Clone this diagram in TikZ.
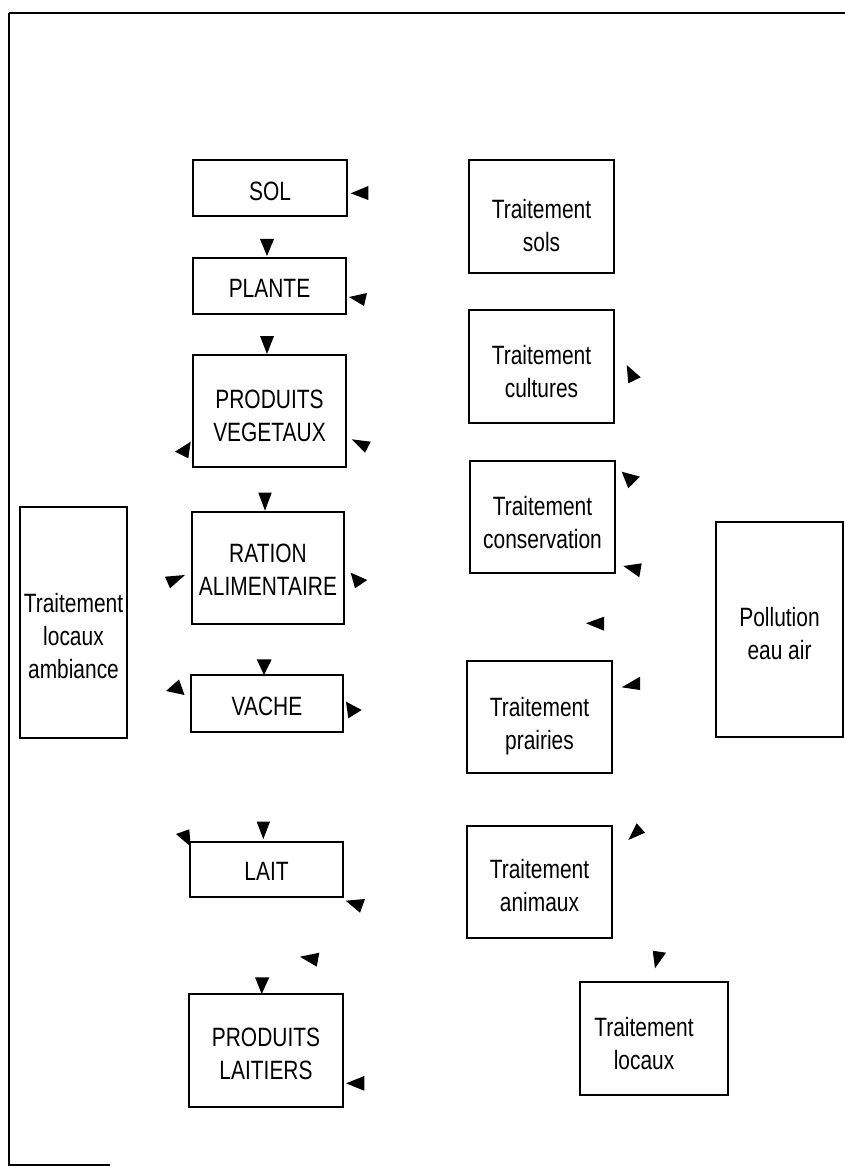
\documentclass[tikz,border=0pt]{standalone}
\usepackage{fontspec}
\setmainfont{Liberation Sans}[FakeStretch=0.79]
\begin{document}
\begin{tikzpicture}[x=1pt,y=-1pt,
  box/.style={draw=black,line width=1.1pt,inner sep=0pt},
  lbl/.style={inner sep=0pt,align=center,font=\fontsize{26.5}{33}\selectfont},
  tip/.style={fill=black},
  frame/.style={draw=black,line width=1.2pt}]
\useasboundingbox (0,0) rectangle (845,1166);
% frame
\draw[frame] (9,13) -- (845,13);
\draw[frame] (9,13) -- (9,1165) -- (110,1165);
% left column
\node[box,minimum width=154pt,minimum height=56pt] (sol) at (270,188) {};
\node[box,minimum width=153pt,minimum height=56pt] (plante) at (269.5,286) {};
\node[box,minimum width=153pt,minimum height=112pt] (pv) at (269.5,411) {};
\node[box,minimum width=152pt,minimum height=112pt] (ration) at (268,568) {};
\node[box,minimum width=152pt,minimum height=57pt] (vache) at (267,703.5) {};
\node[box,minimum width=153pt,minimum height=55pt] (lait) at (266.5,869.5) {};
\node[box,minimum width=154pt,minimum height=113pt] (pl) at (266,1050.5) {};
% right column
\node[box,minimum width=145pt,minimum height=113pt] (tsols) at (541.5,216.5) {};
\node[box,minimum width=145pt,minimum height=113pt] (tcult) at (541.5,366.5) {};
\node[box,minimum width=145pt,minimum height=112pt] (tcons) at (542.5,517) {};
\node[box,minimum width=145pt,minimum height=112pt] (tprai) at (539.5,717) {};
\node[box,minimum width=145pt,minimum height=112pt] (tanim) at (539.5,882) {};
\node[box,minimum width=148pt,minimum height=113pt] (tloc) at (654,1038.5) {};
\node[box,minimum width=107pt,minimum height=231pt] (tamb) at (73.5,622.5) {};
\node[box,minimum width=127pt,minimum height=215pt] (poll) at (779.5,629.5) {};
% labels
\node[lbl,yshift=-3pt] (solt) at (sol) {SOL};
\node[lbl,yshift=-2pt] (plantet) at (plante) {PLANTE};
\node[lbl,yshift=-5pt] (pvt) at (pv) {PRODUITS\\VEGETAUX};
\node[lbl,yshift=-2pt] (rationt) at (ration) {RATION\\ALIMENTAIRE};
\node[lbl,yshift=-3pt] (vachet) at (vache) {VACHE};
\node[lbl,yshift=-2pt] (laitt) at (lait) {LAIT};
\node[lbl,yshift=-3pt] (plt) at (pl) {PRODUITS\\LAITIERS};
\node[lbl,yshift=-9pt] (tsolst) at (tsols) {Traitement\\sols};
\node[lbl,yshift=-5pt] (tcultt) at (tcult) {Traitement\\cultures};
\node[lbl,yshift=-6pt] (tconst) at (tcons) {Traitement\\conservation};
\node[lbl,yshift=-9pt] (tprait) at (tprai) {Traitement\\prairies};
\node[lbl,yshift=-4pt] (tanimt) at (tanim) {Traitement\\animaux};
\node[lbl,yshift=-5pt,xshift=-10pt] (tloct) at (tloc) {Traitement\\locaux};
\node[lbl,yshift=-14pt] (tambt) at (tamb) {Traitement\\locaux\\ambiance};
\node[lbl,yshift=-4pt] (pollt) at (poll) {Pollution\\eau air};
% arrowheads (lines absent in the original)
\fill[tip] (350.7,193.3) -- (368.3,186) -- (368.3,200) -- cycle;
\fill[tip] (260,239) -- (274,239) -- (267,256) -- cycle;
\fill[tip] (349,297) -- (367,293) -- (364,306) -- cycle;
\fill[tip] (260,336) -- (274,336) -- (267,354) -- cycle;
\fill[tip] (175,451.7) -- (190.7,441.7) -- (188.3,458.3) -- cycle;
\fill[tip] (351.7,439.3) -- (370.7,441.7) -- (365,452.7) -- cycle;
\fill[tip] (258.3,492.7) -- (271.7,492.7) -- (265,510.7) -- cycle;
\fill[tip] (165,576.7) -- (185,575) -- (170,588.3) -- cycle;
\fill[tip] (350.7,572.7) -- (367.3,580) -- (355,588.3) -- cycle;
\fill[tip] (256.7,659.3) -- (271.7,659.3) -- (264,675) -- cycle;
\fill[tip] (166,691) -- (179,679.5) -- (184.5,695) -- cycle;
\fill[tip] (346,701.7) -- (361.7,710) -- (348.3,718.3) -- cycle;
\fill[tip] (256.7,821.7) -- (270,821.7) -- (263.3,839) -- cycle;
\fill[tip] (176,834) -- (189.3,829.3) -- (190.7,846.7) -- cycle;
\fill[tip] (345.7,900.7) -- (365,899) -- (360,912.7) -- cycle;
\fill[tip] (300,956.7) -- (319.3,952.7) -- (316.7,966.7) -- cycle;
\fill[tip] (255,977.3) -- (269.3,977.3) -- (261.7,994) -- cycle;
\fill[tip] (346,1083.3) -- (364.3,1076) -- (364.3,1090.7) -- cycle;
\fill[tip] (626.7,365) -- (640.7,377.3) -- (628.3,383.3) -- cycle;
\fill[tip] (621.7,471.7) -- (640,476.7) -- (628.3,488.3) -- cycle;
\fill[tip] (623.3,566) -- (641.7,563.3) -- (639.3,577.3) -- cycle;
\fill[tip] (586,623.3) -- (604,616.7) -- (604,630.7) -- cycle;
\fill[tip] (621.7,687.3) -- (640,676.7) -- (640,690) -- cycle;
\fill[tip] (628.3,840) -- (636.7,823.3) -- (645,832.7) -- cycle;
\fill[tip] (652.7,950.7) -- (666,952.7) -- (655,968.3) -- cycle;
\end{tikzpicture}
\end{document}
